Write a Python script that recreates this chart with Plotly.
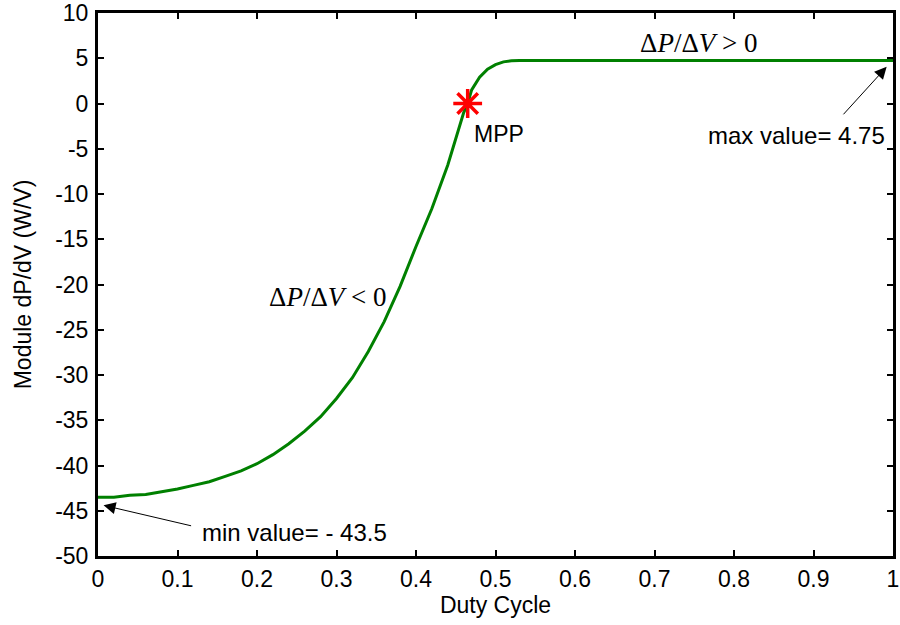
import plotly.graph_objects as go

# Data
duty = [0.0, 0.02, 0.04, 0.06, 0.08, 0.10, 0.12, 0.14, 0.16, 0.18, 0.20,
        0.22, 0.24, 0.26, 0.28, 0.30, 0.32, 0.34, 0.36, 0.38, 0.40, 0.42,
        0.44, 0.45, 0.46, 0.465, 0.47, 0.48, 0.49, 0.50, 0.51, 0.52, 0.53,
        0.60, 0.70, 0.80, 0.90, 1.0]
dpdv = [-43.5, -43.5, -43.3, -43.2, -42.9, -42.6, -42.2, -41.8, -41.2, -40.6, -39.8,
        -38.8, -37.6, -36.2, -34.6, -32.6, -30.3, -27.4, -24.1, -20.2, -15.8, -11.6,
        -6.8, -4.0, -1.0, 0.0, 1.5, 2.9, 3.8, 4.3, 4.6, 4.72, 4.75,
        4.75, 4.75, 4.75, 4.75, 4.75]
mpp_x = [0.465]
mpp_y = [0.0]
x_ticks = [0, 0.1, 0.2, 0.3, 0.4, 0.5, 0.6, 0.7, 0.8, 0.9, 1.0]
x_ticktext = ["0", "0.1", "0.2", "0.3", "0.4", "0.5", "0.6", "0.7", "0.8", "0.9", "1"]
y_ticks = [-50, -45, -40, -35, -30, -25, -20, -15, -10, -5, 0, 5, 10]
y_ticktext = [str(v) for v in y_ticks]

SANS = "Liberation Sans, Arial, sans-serif"
SERIF = "Liberation Serif, Times New Roman, serif"
FS = 24

fig = go.Figure()
fig.add_trace(go.Scatter(x=duty, y=dpdv, mode="lines",
                         line=dict(color="#008000", width=3), showlegend=False))
fig.add_trace(go.Scatter(x=mpp_x, y=mpp_y, mode="markers",
                         marker=dict(symbol="asterisk-open", size=24, color="#ff0000",
                                     line=dict(color="#ff0000", width=3.5)),
                         showlegend=False))

axis_common = dict(showline=True, linecolor="black", linewidth=3, mirror="ticks",
                   ticks="inside", ticklen=6, tickwidth=2, tickcolor="black",
                   showgrid=False, zeroline=False, automargin=False,
                   tickfont=dict(family=SANS, size=FS - 1, color="black"))

fig.update_xaxes(range=[0, 1], tickvals=x_ticks, ticktext=x_ticktext,
                 title=dict(text="Duty Cycle", font=dict(family=SANS, size=FS - 1, color="black"),
                            standoff=4),
                 **axis_common)
fig.update_yaxes(range=[-50, 10], tickvals=y_ticks, ticktext=y_ticktext,
                 ticklabelstandoff=2,
                 title=dict(text="Module dP/dV (W/V)", font=dict(family=SANS, size=FS - 1, color="black"),
                            standoff=18),
                 **axis_common)

annotations = [
    dict(x=0.755, y=6.7, xref="x", yref="y",
         text="Δ<i>P</i>/Δ<i>V</i> > 0", showarrow=False,
         font=dict(family=SERIF, size=27, color="black")),
    dict(x=0.289, y=-21.4, xref="x", yref="y",
         text="Δ<i>P</i>/Δ<i>V</i> < 0", showarrow=False,
         font=dict(family=SERIF, size=27, color="black")),
    dict(x=0.470, y=-3.4, xref="x", yref="y", xanchor="left",
         text="MPP", showarrow=False,
         font=dict(family=SANS, size=FS - 1, color="black")),
    dict(x=0.993, y=-3.5, xref="x", yref="y", xanchor="right",
         text="max value= 4.75", showarrow=False,
         font=dict(family=SANS, size=FS, color="black")),
    dict(x=0.128, y=-47.4, xref="x", yref="y", xanchor="left",
         text="min value= - 43.5", showarrow=False,
         font=dict(family=SANS, size=FS, color="black")),
    dict(x=0.992, y=4.05, ax=0.936, ay=-1.36, xref="x", yref="y", axref="x", ayref="y",
         text="", showarrow=True, arrowhead=2, arrowsize=2.4, arrowwidth=1, arrowcolor="black"),
    dict(x=0.007, y=-44.4, ax=0.119, ay=-46.7, xref="x", yref="y", axref="x", ayref="y",
         text="", showarrow=True, arrowhead=2, arrowsize=2.4, arrowwidth=1, arrowcolor="black"),
]
fig.update_layout(annotations=annotations,
                  width=900, height=625,
                  margin=dict(l=98, r=7, t=13, b=69),
                  plot_bgcolor="white", paper_bgcolor="white")

# remove the browser's default 8px body margin so the figure fills the window exactly
fig.write_html("out.html", config={"displayModeBar": False},
               post_script="document.body.style.margin='0';")
